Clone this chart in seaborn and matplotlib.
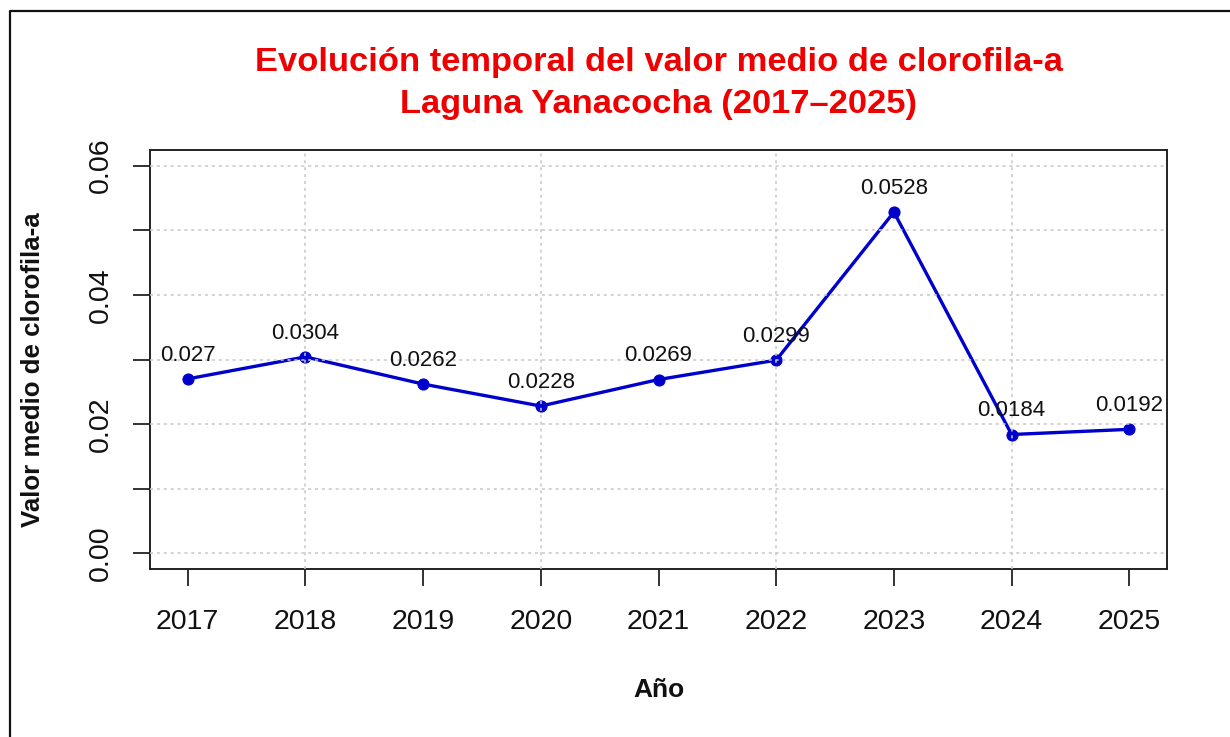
import numpy as np
import pandas as pd
import matplotlib
matplotlib.use("Agg")
import matplotlib.pyplot as plt
from matplotlib.lines import Line2D
import seaborn as sns

# Datos: valor medio anual de clorofila-a
years = [2017, 2018, 2019, 2020, 2021, 2022, 2023, 2024, 2025]
chl_mean = [0.027, 0.0304, 0.0262, 0.0228, 0.0269, 0.0299, 0.0528, 0.0184, 0.0192]
y_ticks = [0.00, 0.01, 0.02, 0.03, 0.04, 0.05, 0.06]
y_ticklabels = ["0.00", "", "0.02", "", "0.04", "", "0.06"]
x_grid = [2018, 2020, 2022, 2024]

title_1 = "Evolución temporal del valor medio de clorofila-a"
title_2 = "Laguna Yanacocha (2017–2025)"

df = pd.DataFrame({"Año": years, "Clorofila": chl_mean})

sns.set_theme(style="white")
plt.rcParams['font.family'] = ['Liberation Sans', 'DejaVu Sans']

W, H = 1230, 737
fig = plt.figure(figsize=(W / 100, H / 100), dpi=100)
ax = fig.add_axes([150 / W, 1 - 569 / H, (1167 - 150) / W, (569 - 150) / H])

# Rejilla punteada (como grid() en R)
for yv in y_ticks:
    ax.axhline(yv, color='#c8c8c8', linestyle=(0, (2, 2.5)), linewidth=1.1, zorder=3)
for xv in x_grid:
    ax.axvline(xv, color='#c8c8c8', linestyle=(0, (2, 2.5)), linewidth=1.1, zorder=3)

sns.lineplot(data=df, x="Año", y="Clorofila", ax=ax, color='#0000CD', linewidth=2.4,
             marker='o', markersize=8, markeredgecolor='#0000CD', zorder=2)

# Etiquetas de valores
for x, y in zip(years, chl_mean):
    ax.annotate(f'{y:g}', (x, y), xytext=(0, 17), textcoords='offset points',
                ha='center', va='center', fontsize=16, color='#111111', zorder=4)

ax.set_xlim(2016.68, 2025.32)
ax.set_ylim(-0.0024, 0.0624)
ax.set_xticks(years)
ax.set_xticklabels([str(y) for y in years], fontsize=20.5)
ax.set_yticks(y_ticks)
ax.set_yticklabels(y_ticklabels, fontsize=20.5)
plt.setp(ax.get_yticklabels(), rotation=90, va='center')
ax.tick_params(axis='both', direction='out', length=12, width=1.3, color='#222222',
               left=True, bottom=True, labelcolor='#111111')
ax.tick_params(axis='x', pad=17)
ax.tick_params(axis='y', pad=14)

for s in ax.spines.values():
    s.set_visible(True)
    s.set_color('#222222')
    s.set_linewidth(1.4)

ax.set_xlabel("")
ax.set_ylabel("")

# Títulos y etiquetas de ejes
cx = (150 + 1167) / 2 / W
fig.text(cx, 1 - 63 / H, title_1, ha='center', va='center', fontsize=24.8,
         fontweight='bold', color='#EE0000')
fig.text(cx, 1 - 104 / H, title_2, ha='center', va='center', fontsize=24.8,
         fontweight='bold', color='#EE0000')
fig.text(cx, 1 - 690 / H, "Año", ha='center', va='center', fontsize=19,
         fontweight='bold', color='#111111')
fig.text(33 / W, 1 - 370 / H, "Valor medio de clorofila-a", ha='center', va='center',
         rotation=90, fontsize=18.6, fontweight='bold', color='#111111')

# Marco exterior (captura de pantalla)
fig.add_artist(Line2D([9.5 / W, 9.5 / W, 1], [0, 1 - 10.5 / H, 1 - 10.5 / H],
                      color='#111111', linewidth=1.6))

fig.savefig("out.png", dpi=100)
